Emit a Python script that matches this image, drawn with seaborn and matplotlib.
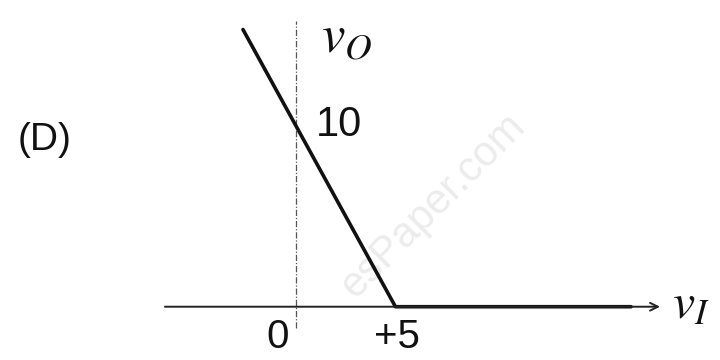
import numpy as np
import matplotlib
matplotlib.use("Agg")
import matplotlib.pyplot as plt
import seaborn as sns
import pandas as pd

# transfer characteristic v_O vs v_I
v_in = [-2.7, 5, 16.9]
v_out = [15.4, 0, 0]

# axes extents (data units)
x_axis = [-6.64, 18.36]
y_axis = [-1.2, 15.9]

tick_x = [0, 5]
tick_x_labels = ["0", "+5"]
tick_y = [10]
tick_y_labels = ["10"]

sns.set_style("white")
plt.rcParams["font.family"] = ["Liberation Sans", "DejaVu Sans"]
plt.rcParams["mathtext.fontset"] = "stix"

fig = plt.figure(figsize=(7.2, 3.6), dpi=100)
ax = fig.add_axes([0, 0, 1, 1])
ax.set_xlim(-14.97, 21.39)
ax.set_ylim(-2.96, 17.04)
ax.axis("off")

# x axis with arrow
ax.annotate("", xy=(x_axis[1], 0), xytext=(x_axis[0], 0),
            arrowprops=dict(arrowstyle="->", color="#222222", lw=1.4,
                            shrinkA=0, shrinkB=0, mutation_scale=14))
# vertical axis, dash-dot
ax.plot([0, 0], y_axis, color="#555555", lw=0.9, linestyle=(0, (5, 1.5, 1, 1.5)))

df = pd.DataFrame({"vi": v_in, "vo": v_out})
sns.lineplot(data=df, x="vi", y="vo", sort=False, color="#111111", lw=2.6, ax=ax)

for x, lab in zip(tick_x, tick_x_labels):
    off = -0.93 if x == 0 else 0.07
    ax.text(x + off, -1.7, lab, fontsize=29, ha="center", va="center", color="#111111")
for y, lab in zip(tick_y, tick_y_labels):
    ax.text(1.0, y + 0.1, lab, fontsize=30, ha="left", va="center", color="#111111")

ax.text(2.55, 14.9, r"$v_O$", fontsize=38, ha="center", va="center", color="#111111")
ax.text(19.9, 0.1, r"$v_I$", fontsize=36, ha="center", va="center", color="#111111")
ax.text(-12.7, 9.26, "(D)", fontsize=28, ha="center", va="center", color="#111111")

# faint watermark
ax.text(6.9, 5.6, "esPaper.com", fontsize=30, rotation=45, ha="center", va="center",
        color="#ececec", zorder=0)

fig.savefig("out.png", dpi=100)
